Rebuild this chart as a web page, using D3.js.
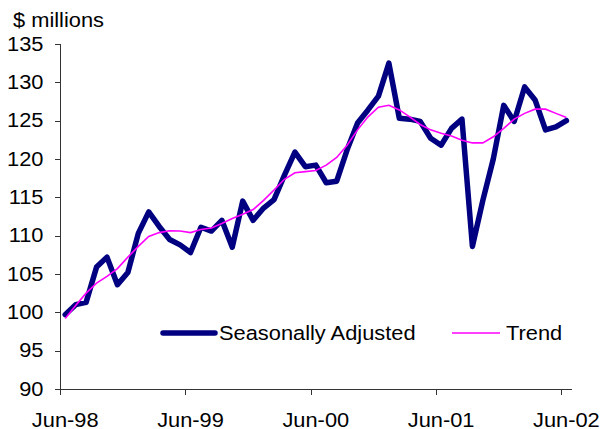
<!DOCTYPE html>
<html>
  <head>
    <meta charset="utf-8">
    <title>Seasonally Adjusted and Trend</title>
    <script src="https://d3js.org/d3.v7.min.js"></script>
    <style>
      body { margin: 0; background: #fff; }
      text { font-family: "Liberation Sans", Arial, sans-serif; fill: #000; }
      .axis path, .axis line { stroke: #333; shape-rendering: crispEdges; }
    </style>
  </head>
  <body>
  <svg id="chart" width="600" height="429"></svg>

  <script>
  // monthly, Jun-98 .. Jun-02
  var months = ["Jun-98","Jul-98","Aug-98","Sep-98","Oct-98","Nov-98","Dec-98","Jan-99","Feb-99","Mar-99","Apr-99","May-99",
    "Jun-99","Jul-99","Aug-99","Sep-99","Oct-99","Nov-99","Dec-99","Jan-00","Feb-00","Mar-00","Apr-00","May-00",
    "Jun-00","Jul-00","Aug-00","Sep-00","Oct-00","Nov-00","Dec-00","Jan-01","Feb-01","Mar-01","Apr-01","May-01",
    "Jun-01","Jul-01","Aug-01","Sep-01","Oct-01","Nov-01","Dec-01","Jan-02","Feb-02","Mar-02","Apr-02","May-02",
    "Jun-02"];

  var seasonallyAdjusted = [99.7, 101.0, 101.3, 105.9, 107.2, 103.6, 105.2, 110.3, 113.1, 111.2, 109.5, 108.8,
    107.8, 111.1, 110.6, 112.0, 108.5, 114.5, 112.0, 113.6, 114.7, 117.9, 120.9, 119.0,
    119.2, 116.9, 117.1, 121.2, 124.7, 126.4, 128.2, 132.5, 125.3, 125.2, 124.9, 122.7,
    121.8, 124.0, 125.2, 108.6, 114.6, 120.0, 127.0, 124.9, 129.4, 127.7, 123.8, 124.2,
    125.0];

  var trend = [99.2, 100.9, 102.5, 103.8, 104.7, 105.7, 107.2, 108.6, 109.9, 110.4, 110.65, 110.6,
    110.4, 110.8, 111.0, 111.6, 112.25, 112.8, 113.4, 114.6, 115.95, 117.35, 118.2, 118.35,
    118.5, 119.2, 120.2, 121.8, 123.8, 125.5, 126.75, 127.0, 126.4, 125.5, 124.5, 123.8,
    123.35, 123.0, 122.45, 122.1, 122.1, 122.9, 124.0, 125.2, 125.95, 126.5, 126.5, 125.95,
    125.4];

  var yTicks = [90, 95, 100, 105, 110, 115, 120, 125, 130, 135];
  var xTickLabels = ["Jun-98", "Jun-99", "Jun-00", "Jun-01", "Jun-02"];
  var seriesNames = ["Seasonally Adjusted", "Trend"];

  var svg = d3.select("#chart");
  var stretch = 1.12; // the source text is a bit wide

  var x = d3.scaleBand()
    .domain(months)
    .range([60, 571.6]);
  var xEdge = d3.scaleLinear()
    .domain([0, months.length])
    .range(x.range());
  var y = d3.scaleLinear()
    .domain([90, 135])
    .range([389, 44]);

  function cx(i) { return x(months[i]) + x.bandwidth() / 2; }

  function label(g, px, py, anchor, txt) {
    g.append("text")
      .attr("transform", "translate(" + px + "," + py + ") scale(" + stretch + ",1)")
      .attr("text-anchor", anchor)
      .attr("font-size", 19.5)
      .text(txt);
  }

  // y axis
  var yAxis = svg.append("g")
    .attr("class", "axis")
    .attr("transform", "translate(60,0)")
    .call(d3.axisLeft(y).tickValues(yTicks).tickSize(5).tickFormat(""));
  yAxis.select(".domain").attr("d", "M0," + y(135) + "V" + y(90));
  yTicks.forEach(function(t) {
    label(svg, 43.5, y(t) + 6.8, "end", t);
  });

  // x axis, ticks between categories every 12 months
  var xAxis = svg.append("g")
    .attr("class", "axis")
    .attr("transform", "translate(0," + y(90) + ")")
    .call(d3.axisBottom(xEdge).tickValues([0, 12, 24, 36, 48]).tickSize(6).tickSizeOuter(0).tickFormat(""));
  xAxis.select(".domain").attr("d", "M" + xEdge(0) + ",0H" + xEdge(months.length));
  xTickLabels.forEach(function(t) {
    label(svg, cx(months.indexOf(t)), 426.5, "middle", t);
  });

  label(svg, 13, 27, "start", "$ millions");

  var line = d3.line()
    .x(function(d, i) { return cx(i); })
    .y(function(d) { return y(d); });

  svg.append("path")
    .datum(seasonallyAdjusted)
    .attr("fill", "none")
    .attr("stroke", "#000080")
    .attr("stroke-width", 5.5)
    .attr("stroke-linejoin", "round")
    .attr("stroke-linecap", "round")
    .attr("d", line);

  svg.append("path")
    .datum(trend)
    .attr("fill", "none")
    .attr("stroke", "#ff00ff")
    .attr("stroke-width", 1.6)
    .attr("d", line);

  // legend
  var legend = svg.append("g");
  legend.append("line")
    .attr("x1", 163).attr("x2", 215).attr("y1", 333).attr("y2", 333)
    .attr("stroke", "#000080").attr("stroke-width", 5.5).attr("stroke-linecap", "round");
  label(legend, 219, 340, "start", seriesNames[0]);
  legend.append("line")
    .attr("x1", 452).attr("x2", 500).attr("y1", 333).attr("y2", 333)
    .attr("stroke", "#ff00ff").attr("stroke-width", 1.6);
  label(legend, 506, 340, "start", seriesNames[1]);
  </script>
  </body>
</html>
